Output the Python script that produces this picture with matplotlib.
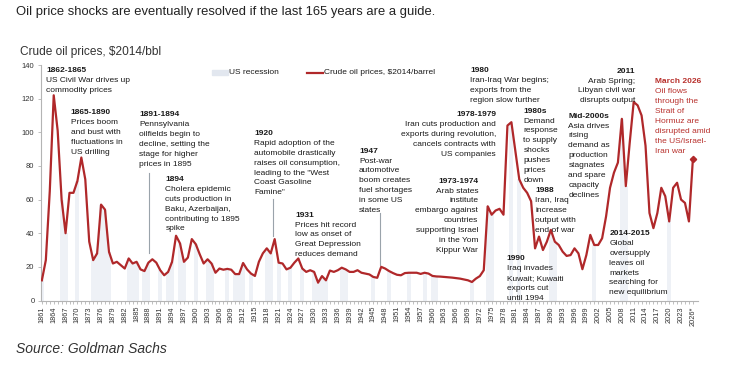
import matplotlib
matplotlib.use("Agg")
import matplotlib.pyplot as plt
from matplotlib.patches import Rectangle
from matplotlib.lines import Line2D
import numpy as np

plt.rcParams['font.family'] = ['Liberation Sans', 'DejaVu Sans']

# ---------------- data ----------------
years = list(range(1861, 2027))
oil_price = [
    12, 24, 65, 122, 101, 60, 40, 64, 64, 71,            # 1861-1870
    85, 72, 35, 24, 28, 57, 54, 29, 22, 23,              # 1871-1880
    21, 19, 25, 22, 23, 18.5, 17.5, 22.5, 24.5, 22.5,    # 1881-1890
    18, 15, 17, 23, 38.5, 34, 23, 25.5, 36.5, 33.5,      # 1891-1900
    27.5, 22, 24.5, 22, 16.5, 19, 18.3, 18.8, 18.3, 15.7,  # 1901-1910
    15.7, 22.3, 18.5, 16, 14.6, 23, 28, 31, 28, 36.5,    # 1911-1920
    22.5, 22, 18.5, 19.5, 22.5, 25, 19, 17, 18, 17,      # 1921-1930
    10.6, 14.5, 12, 17.8, 17, 18, 19.5, 18.5, 17, 17,    # 1931-1940
    18, 16.5, 16, 15.5, 14, 13.5, 20, 19, 17.5, 16.3,    # 1941-1950
    15.3, 15, 16.3, 16.5, 16.5, 16.5, 15.8, 16.5, 16, 14.6,  # 1951-1960
    14.3, 14.2, 14, 13.8, 13.6, 13.3, 13, 12.5, 12, 11,  # 1961-1970
    13, 14.5, 18, 56, 51, 53.5, 54.5, 51, 104, 106,      # 1971-1980
    89, 72, 67, 64, 59, 31, 38, 30, 35, 42,              # 1981-1990
    35, 33, 29, 26.5, 27, 31, 28, 18.6, 27, 39,          # 1991-2000
    33, 33, 37, 50, 67, 76, 82, 108, 68, 94,             # 2001-2010
    118, 116, 110, 92, 52, 43, 52, 67, 62, 47,           # 2011-2020
    67, 70, 60, 58, 47, 84,                              # 2021-2026
]
recession_years = [1861, 1866, 1867, 1870, 1874, 1875, 1876, 1877, 1878,
                   1883, 1884, 1885, 1887, 1888, 1891, 1893, 1894, 1896, 1897,
                   1900, 1903, 1904, 1908, 1910, 1911, 1912, 1914,
                   1918, 1919, 1921, 1924, 1927, 1930, 1931, 1932, 1933,
                   1937, 1938, 1945, 1949, 1954, 1958, 1960, 1961, 1970,
                   1974, 1975, 1980, 1982, 1990, 1991, 2001, 2008, 2009, 2020]
tick_years = list(range(1861, 2027, 3))
tick_labels = [str(y) for y in tick_years[:-1]] + ["2026*"]
yticks = [0, 20, 40, 60, 80, 100, 120, 140]

RED = '#B0282A'
ANN_RED = '#B8302C'
TXT = '#1a1a1a'
GRID = '#b4b4b4'
REC = '#eef1f6'

W, H = 742, 366
fig = plt.figure(figsize=(W / 100, H / 100), dpi=100)
x0, x1, ytop, ybot = 40.7, 698.0, 65.0, 300.5
ax = fig.add_axes([x0 / W, 1 - ybot / H, (x1 - x0) / W, (ybot - ytop) / H])
ax.set_xlim(1860.7, 2027.3)
ax.set_ylim(0, 140)

price_by_year = dict(zip(years, oil_price))
rec_heights = [price_by_year[y] for y in recession_years]
ax.bar(recession_years, rec_heights, width=1.0, color=REC, align='center',
       linewidth=0, zorder=1)
ax.plot(years, oil_price, color=RED, lw=1.6, zorder=3, solid_joinstyle='round')
ax.plot([years[-1]], [oil_price[-1]], marker='D', ms=3.2, color=RED, zorder=4)

for s in ['top', 'right']:
    ax.spines[s].set_visible(False)
for s in ['left', 'bottom']:
    ax.spines[s].set_color(GRID)
    ax.spines[s].set_linewidth(0.8)

ax.set_yticks(yticks)
ax.set_yticklabels([str(v) for v in yticks], fontsize=5.5, color='#333333')
ax.set_xticks(tick_years)
ax.set_xticklabels(tick_labels, rotation=90, fontsize=5.3, color='#333333')
ax.set_xticks(years, minor=True)
ax.tick_params(axis='both', which='both', color=GRID, length=2.5, width=0.6)
ax.tick_params(axis='x', pad=1.5)
ax.tick_params(axis='y', pad=2)

# leader lines
ax.plot([1888.2, 1888.2], [28, 76], color='#9aa3ab', lw=0.8, zorder=2)
ax.plot([1919.7, 1919.7], [38.5, 60.6], color='#9aa3ab', lw=0.8, zorder=2)
ax.plot([1946.7, 1946.7], [21.2, 52.2], color='#9aa3ab', lw=0.8, zorder=2)


def ftxt(x, y, s, **kw):
    return fig.text(x / W, 1 - y / H, s, **kw)


def block(x, y, header, lines, ha='left', color=TXT, step=9.9):
    ftxt(x, y + 6.0, header, ha=ha, va='baseline', fontsize=6,
         fontweight='bold', color=color)
    for i, ln in enumerate(lines):
        ftxt(x, y + 6.0 + step * (i + 1), ln, ha=ha, va='baseline',
             fontsize=6, color=color)


# titles
ftxt(16, 12, "Oil price shocks are eventually resolved if the last 165 years are a guide.",
     fontsize=9.4, color='#222222', va='center')
ftxt(20, 52, "Crude oil prices, $2014/bbl", fontsize=8.6, color='#333333', va='center')
ftxt(16, 349, "Source: Goldman Sachs", fontsize=10, style='italic', color='#333333', va='center')

# legend
fig.patches.append(Rectangle((212 / W, 1 - 75 / H), 16 / W, 5 / H,
                             transform=fig.transFigure, color='#e2e7ef'))
ftxt(229, 72.5, "US recession", fontsize=6, color=TXT, va='center')
fig.lines.append(Line2D([306.7 / W, 323 / W], [1 - 72.5 / H, 1 - 72.5 / H],
                        transform=fig.transFigure, color=RED, lw=1.6))
ftxt(324, 72.5, "Crude oil prices, $2014/barrel", fontsize=6, color=TXT, va='center')

# annotations
block(46.5, 66, "1862-1865", ["US Civil War drives up", "commodity prices"])
block(70.7, 108.3, "1865-1890", ["Prices boom", "and bust with", "fluctuations in", "US drilling"])
block(139.3, 110, "1891-1894", ["Pennsylvania", "oilfields begin to", "decline, setting the",
                                 "stage for higher", "prices in 1895"])
block(165.3, 175, "1894", ["Cholera epidemic", "cuts production in", "Baku, Azerbaijan,",
                           "contributing to 1895", "spike"])
block(254, 129, "1920", ["Rapid adoption of the", "automobile drastically",
                         "raises oil consumption,", "leading to the \"West",
                         "Coast Gasoline", "Famine\""])
block(295, 210.7, "1931", ["Prices hit record", "low as onset of", "Great Depression",
                           "reduces demand"])
block(359, 146.7, "1947", ["Post-war", "automotive", "boom creates", "fuel shortages",
                           "in some US", "states"])
block(496, 110, "1978-1979", ["Iran cuts production and", "exports during revolution,",
                              "cancels contracts with", "US companies"], ha='right')
block(478.3, 176.7, "1973-1974", ["Arab states", "institute", "embargo against", "countries",
                                  "supporting Israel", "in the Yom", "Kippur War"], ha='right')
block(470, 66, "1980", ["Iran-Iraq War begins;", "exports from the", "region slow further"])
block(523.3, 106.7, "1980s", ["Demand", "response", "to supply", "shocks", "pushes",
                              "prices", "down"])
block(568.3, 111.7, "Mid-2000s", ["Asia drives", "rising", "demand as", "production",
                                  "stagnates", "and spare", "capacity", "declines"])
block(635, 66.7, "2011", ["Arab Spring;", "Libyan civil war", "disrupts output"], ha='right')
block(655, 77.3, "March 2026", ["Oil flows", "through the", "Strait of", "Hormuz are",
                                "disrupted amid", "the US/Israel-", "Iran war"], color=ANN_RED)
block(535, 186, "1988", ["Iran, Iraq", "increase", "output with", "end of war"])
block(506.7, 254, "1990", ["Iraq invades", "Kuwait; Kuwaiti", "exports cut", "until 1994"])
block(609.3, 229, "2014-2015", ["Global", "oversupply", "leaves oil", "markets",
                                "searching for", "new equilibrium"])

fig.savefig("out.png", dpi=100)
